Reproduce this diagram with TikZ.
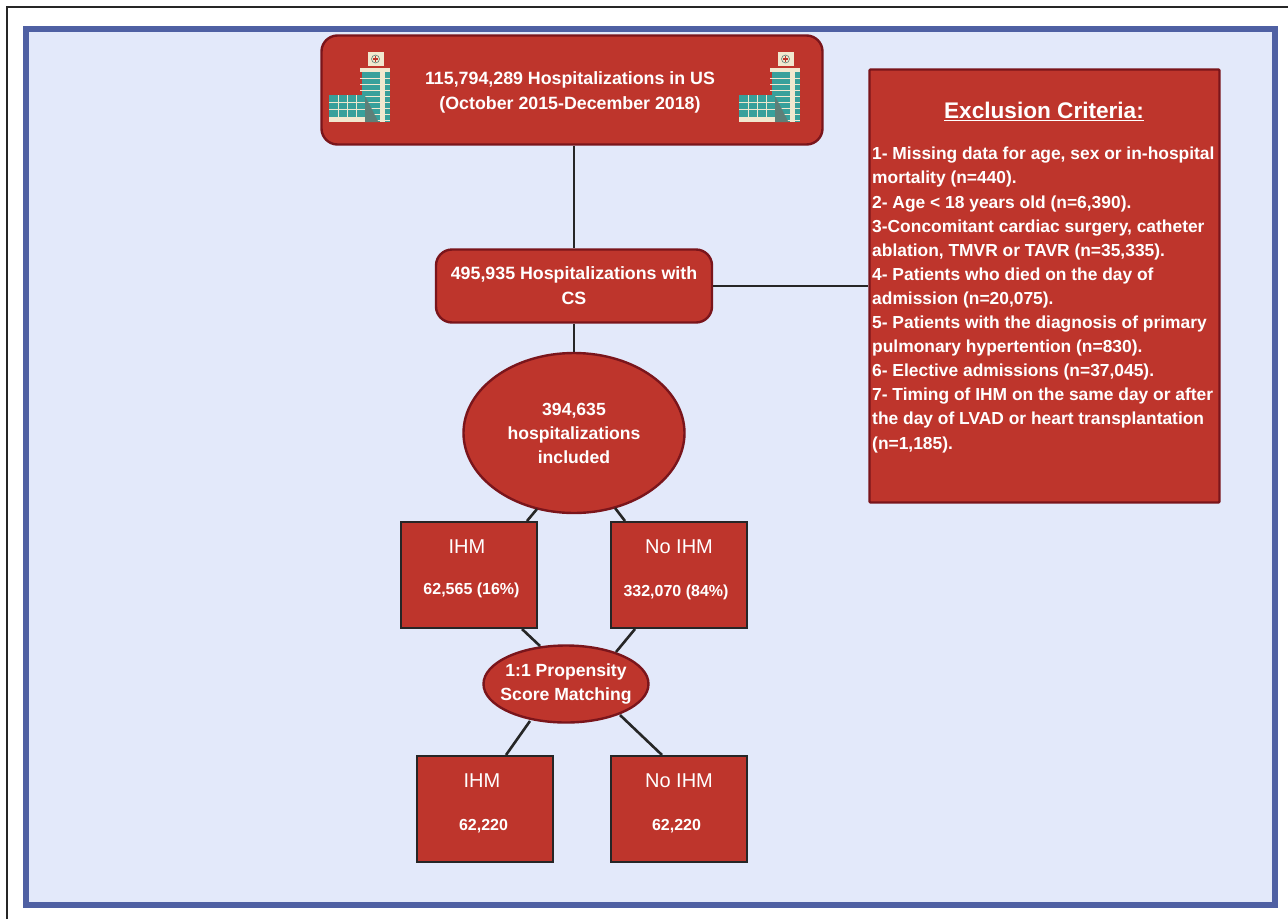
\documentclass[tikz,border=0pt]{standalone}
\usepackage{fontspec}
\setmainfont{Liberation Sans}
\usetikzlibrary{positioning,shapes.geometric}
\definecolor{boxred}{HTML}{BE352C}
\definecolor{boxedge}{HTML}{7A151B}
\definecolor{framefill}{HTML}{E3E9FA}
\definecolor{frameedge}{HTML}{4F60A3}
\definecolor{glass}{HTML}{38A09B}
\definecolor{cream}{HTML}{F1E8CF}
\definecolor{icongrey}{HTML}{5E7F78}
% one hospital icon, origin at its top centre
\newcommand{\hospital}[2]{%
	\begin{scope}[shift={(#1,#2)}]
		\fill[cream] (-8,0) rectangle (8,14);
		\fill[cream] (-16,16) rectangle (14,20);
		\fill[glass] (-14,20) rectangle (14,70);
		\foreach \y in {26,32,...,68} \fill[cream] (-16,\y) rectangle (14,\y+1.3);
		\fill[cream] (4,20) rectangle (9,70);
		\fill[icongrey] (-11,43) -- (3,70) -- (-11,70) -- cycle;
		\fill[glass] (-47,43) rectangle (-11,65);
		\foreach \x in {-38,-29,-20} \fill[cream] (\x,43) rectangle (\x+1,65);
		\foreach \y in {50,57} \fill[cream] (-47,\y) rectangle (-11,\y+1);
		\fill[cream] (-47,65) rectangle (-11,70);
		\draw[icongrey, line width=0.6pt] (0,7) circle (4);
		\fill[boxred] (-2.6,6.2) rectangle (2.6,7.8);
		\fill[boxred] (-0.8,4.4) rectangle (0.8,9.6);
	\end{scope}}
\begin{document}
\begin{tikzpicture}[
		x=1pt, y=-1pt,
		link/.style={line width=2.6pt, draw=black!85},
		roundbox/.style={draw=boxedge, line width=2.4pt, fill=boxred, rounded corners=16pt, text=white, align=center, font=\bfseries\fontsize{17.8}{25}\selectfont},
		oval/.style={ellipse, draw=boxedge, line width=2.4pt, fill=boxred, text=white, align=center, inner xsep=-20pt, inner ysep=-10pt, font=\bfseries\fontsize{17.6}{24}\selectfont},
		square/.style={rectangle, draw=black!85, line width=2.4pt, fill=boxred, inner sep=0pt},
		boxhead/.style={text=white, font=\fontsize{20}{24}\selectfont},
		boxnum/.style={text=white, font=\bfseries\fontsize{16}{18}\selectfont},
	]
	\useasboundingbox (0,0) rectangle (1288,919);
	\fill[white] (0,0) rectangle (1288,919);
	\draw[line width=2.2pt, draw=black!85] (7,919) -- (7,7) -- (1288,7);
	\draw[line width=6pt, draw=frameedge, fill=framefill] (26,29) rectangle (1275,905);

	\coordinate (csin) at (574,250);

	\node (total) [roundbox, minimum width=501, minimum height=109] at (572,90) {};
	\node (totaltext) [roundbox, draw=none, fill=none] at (570,92) {115,794,289 Hospitalizations in US\\(October 2015-December 2018)};
	\node (cs) [roundbox, minimum width=276, minimum height=73] at (574,286) {495,935 Hospitalizations with\\CS};
	\node (incl) [oval, minimum width=221, minimum height=160] at (574,433) {394,635\\hospitalizations\\included};
	\node (ihm) [square, minimum width=136, minimum height=106] at (469,575) {};
	\node (noihm) [square, minimum width=136, minimum height=106] at (679,575) {};
	\node (psm) [oval, minimum width=165, minimum height=77] at (566,684) {1:1 Propensity\\Score Matching};
	\node (ihmb) [square, minimum width=136, minimum height=106] at (485,809) {};
	\node (noihmb) [square, minimum width=136, minimum height=106] at (679,809) {};
	\node (excl) [rectangle, draw=boxedge, line width=2.4pt, fill=boxred, rounded corners=1pt, minimum width=350, minimum height=433] at (1044.5,286) {};

	\draw[link] (total.south -| csin) -- (cs.north -| csin);
	\draw[link] (cs.east) -- (excl.west);
	\draw[link] (cs.south) -- (incl.north);
	\draw[link] (527,521) -- (537,509);
	\draw[link] (625,521) -- (615,508);
	\draw[link] (522,629) -- (540,646);
	\draw[link] (635,629) -- (616,652);
	\draw[link] (530,721) -- (506,755);
	\draw[link] (620,715) -- (662,755);

	\node (ihmh) [boxhead] at (467,547) {IHM};
	\node (ihmn) [boxnum] at (471.5,590) {62,565 (16\%)};
	\node (noihmh) [boxhead] at (679,547) {No IHM};
	\node (noihmn) [boxnum] at (676,592) {332,070 (84\%)};
	\node (ihmbh) [boxhead] at (482,781) {IHM};
	\node (ihmbn) [boxnum] at (483.5,826) {62,220};
	\node (noihmbh) [boxhead] at (679,781) {No IHM};
	\node (noihmbn) [boxnum] at (676.5,826) {62,220};

	\node (title) [text=white, font=\bfseries\fontsize{22.6}{25}\selectfont] at (1044,111) {\underline{Exclusion Criteria:}};
	\node (list) [anchor=north west, text=white, align=left, inner sep=0pt, font=\bfseries\fontsize{17.4}{24.1}\selectfont] at (872,147) {1- Missing data for age, sex or in-hospital\\mortality (n=440).\\2- Age < 18 years old (n=6,390).\\3-Concomitant cardiac surgery, catheter\\ablation, TMVR or TAVR (n=35,335).\\4- Patients who died on the day of\\admission (n=20,075).\\5- Patients with the diagnosis of primary\\pulmonary hypertention (n=830).\\6- Elective admissions (n=37,045).\\7- Timing of IHM on the same day or after\\the day of LVAD or heart transplantation\\(n=1,185).};

	\hospital{375.5}{52}
	\hospital{785.5}{52}
\end{tikzpicture}
\end{document}
